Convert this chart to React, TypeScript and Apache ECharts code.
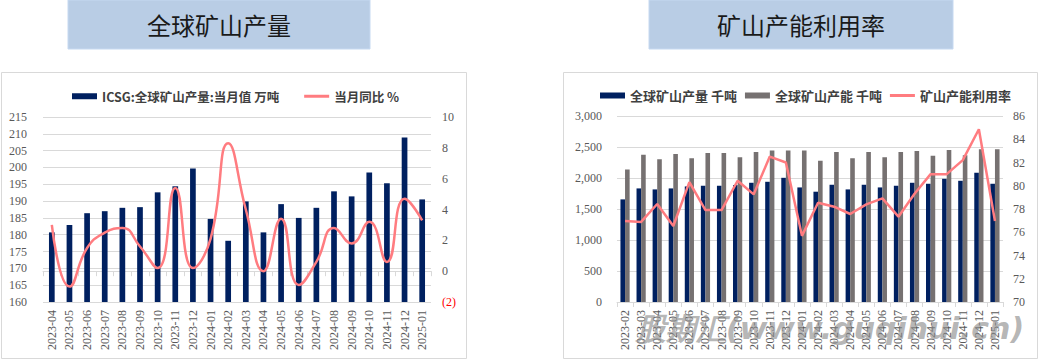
import React, { useEffect, useRef } from "react";
import * as echarts from "echarts";

const leftCats = ["2023-04","2023-05","2023-06","2023-07","2023-08","2023-09","2023-10","2023-11","2023-12","2024-01","2024-02","2024-03","2024-04","2024-05","2024-06","2024-07","2024-08","2024-09","2024-10","2024-11","2024-12","2025-01"];
const icsgOutput = [180.7,182.9,186.4,187.0,188.0,188.2,192.6,194.4,199.7,184.7,178.2,189.9,180.7,189.1,185.0,188.0,192.9,191.4,198.5,195.3,208.9,190.5];
const icsgYoy = [3.0,-1.0,1.5,2.5,2.8,1.6,0.2,5.4,0.2,2.1,8.3,4.0,0.0,3.4,-0.9,0.6,2.8,1.8,3.2,0.6,4.7,3.3];

const rightCats = ["2023-02","2023-03","2023-04","2023-05","2023-06","2023-07","2023-08","2023-09","2023-10","2023-11","2023-12","2024-01","2024-02","2024-03","2024-04","2024-05","2024-06","2024-07","2024-08","2024-09","2024-10","2024-11","2024-12","2025-01"];
const mineOutput = [1655,1832,1816,1832,1864,1875,1875,1886,1923,1939,2003,1848,1779,1891,1816,1891,1848,1875,1923,1907,1987,1955,2084,1907];
const mineCapacity = [2137,2373,2303,2389,2320,2405,2405,2336,2421,2443,2443,2443,2277,2421,2320,2421,2336,2421,2437,2357,2453,2368,2464,2464];
const utilization = [76.97,76.89,78.43,76.54,80.31,77.91,77.91,80.43,79.26,82.51,82.0,75.69,78.54,78.2,77.57,78.4,78.91,77.34,79.31,81.0,81.0,82.2,84.86,76.97];

const leftTitle = "全球矿山产量";
const rightTitle = "矿山产能利用率";
const watermark = "股期汇(www.guqihui.cn)";

const NAVY = "#002060";
const GREY = "#767171";
const PINK = "#ff7c80";
const GRID = "#d9d9d9";
const LABEL = "#595959";
const SERIF = "'Liberation Serif', 'DejaVu Serif', serif";
const CJK = "'Noto Sans CJK SC', sans-serif";
const LINE_ICON = "path://M0,0H25V3H0Z";

export default function App() {
  const ref = useRef<HTMLDivElement>(null);
  useEffect(() => {
    if (!ref.current) return;
    const chart = echarts.init(ref.current, undefined, { renderer: "svg" });
    const axisLabel = { color: LABEL, fontFamily: SERIF, fontSize: 12 };
    const catAxis = (gridIndex: number, data: string[]) => ({
      type: "category",
      gridIndex,
      data,
      axisLine: { lineStyle: { color: GRID } },
      axisTick: { show: true, length: 5, lineStyle: { color: GRID } },
      axisLabel: { ...axisLabel, rotate: 90, margin: 8, interval: 0 },
    });
    const legendText = (size: number) => ({ color: "#404040", fontFamily: CJK, fontSize: size, fontWeight: "bold" });
    chart.setOption({
      animation: false,
      backgroundColor: "#ffffff",
      graphic: [
        { type: "rect", shape: { x: 68, y: 0, width: 302, height: 49 }, style: { fill: "#b9cde5", stroke: "#c6d9f1", lineWidth: 1 } },
        { type: "text", x: 219, y: 24, style: { text: leftTitle, fill: "#1a1a1a", font: "24px 'Noto Sans CJK SC', sans-serif", textAlign: "center", textVerticalAlign: "middle" } },
        { type: "rect", shape: { x: 649, y: 0, width: 304, height: 49 }, style: { fill: "#b9cde5", stroke: "#c6d9f1", lineWidth: 1 } },
        { type: "text", x: 801, y: 24, style: { text: rightTitle, fill: "#1a1a1a", font: "24px 'Noto Sans CJK SC', sans-serif", textAlign: "center", textVerticalAlign: "middle" } },
        { type: "rect", shape: { x: 1.5, y: 72.5, width: 465, height: 286 }, style: { fill: "none", stroke: GRID, lineWidth: 1 } },
        { type: "rect", shape: { x: 563.5, y: 72.5, width: 474, height: 286 }, style: { fill: "none", stroke: GRID, lineWidth: 1 } },
        { type: "text", x: 830, y: 328, z: 100, style: { text: watermark, fill: "rgba(140,140,140,0.65)", font: "italic bold 30px 'DejaVu Sans', sans-serif", textAlign: "center", textVerticalAlign: "middle" } },
      ],
      legend: [
        {
          left: 67, top: 85, itemWidth: 25, itemHeight: 6, itemGap: 25,
          textStyle: legendText(12.5),
          data: [{ name: "ICSG:全球矿山产量:当月值 万吨", icon: "rect" }, { name: "当月同比 %", icon: LINE_ICON }],
        },
        {
          left: 595, top: 84, itemWidth: 25, itemHeight: 6, itemGap: 8,
          textStyle: legendText(13),
          data: [{ name: "全球矿山产量 千吨", icon: "rect" }, { name: "全球矿山产能 千吨", icon: "rect" }, { name: "矿山产能利用率", icon: LINE_ICON }],
        },
      ],
      grid: [
        { left: 43, right: 608, top: 117, bottom: 59 },
        { left: 617, right: 36, top: 116, bottom: 59 },
      ],
      xAxis: [catAxis(0, leftCats), catAxis(1, rightCats)],
      yAxis: [
        { type: "value", gridIndex: 0, min: 160, max: 215, interval: 5, axisLabel: { ...axisLabel, margin: 16 }, splitLine: { lineStyle: { color: GRID } }, axisLine: { show: false }, axisTick: { show: false } },
        {
          type: "value", gridIndex: 0, position: "right", min: -2, max: 10, interval: 2,
          axisLabel: {
            ...axisLabel, margin: 11,
            formatter: (v: number) => (v < 0 ? "{neg|(" + Math.abs(v) + ")}" : String(v)),
            rich: { neg: { color: "#ff0000", fontFamily: SERIF, fontSize: 12 } },
          },
          splitLine: { show: false }, axisLine: { show: false }, axisTick: { show: false },
        },
        {
          type: "value", gridIndex: 1, min: 0, max: 3000, interval: 500,
          axisLabel: { ...axisLabel, margin: 15, formatter: (v: number) => v.toLocaleString("en-US") },
          splitLine: { lineStyle: { color: GRID } }, axisLine: { show: false }, axisTick: { show: false },
        },
        {
          type: "value", gridIndex: 1, position: "right", min: 70, max: 86, interval: 2,
          axisLabel: { ...axisLabel, margin: 10 },
          splitLine: { show: false }, axisLine: { show: false }, axisTick: { show: false },
        },
      ],
      series: [
        { name: "ICSG:全球矿山产量:当月值 万吨", type: "bar", xAxisIndex: 0, yAxisIndex: 0, data: icsgOutput, barWidth: 5.7, itemStyle: { color: NAVY } },
        { name: "当月同比 %", type: "line", xAxisIndex: 0, yAxisIndex: 1, data: icsgYoy, smooth: 0.5, symbol: "none", z: 5, lineStyle: { color: PINK, width: 2.5 }, itemStyle: { color: PINK } },
        { name: "全球矿山产量 千吨", type: "bar", xAxisIndex: 1, yAxisIndex: 2, data: mineOutput, barWidth: 4.6, barGap: "0%", itemStyle: { color: NAVY } },
        { name: "全球矿山产能 千吨", type: "bar", xAxisIndex: 1, yAxisIndex: 2, data: mineCapacity, barWidth: 4.6, barGap: "0%", itemStyle: { color: GREY } },
        { name: "矿山产能利用率", type: "line", xAxisIndex: 1, yAxisIndex: 3, data: utilization, symbol: "none", z: 5, lineStyle: { color: PINK, width: 2.5 }, itemStyle: { color: PINK } },
      ],
    });
    return () => chart.dispose();
  }, []);
  return <div ref={ref} style={{ position: "absolute", left: 0, top: 0, width: 1039, height: 361 }} />;
}
